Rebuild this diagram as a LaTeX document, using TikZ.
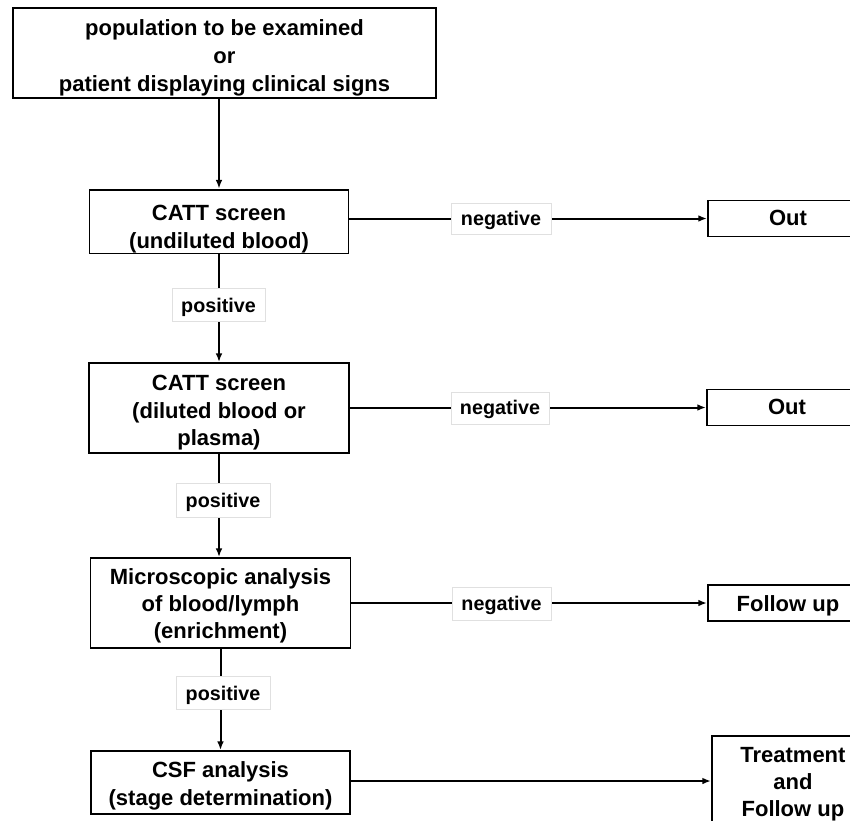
\documentclass[tikz,border=0pt]{standalone}
\usepackage{fontspec}
\setmainfont{Liberation Sans}
\usetikzlibrary{arrows.meta}
\newcommand\myup[1]{\rule{0pt}{#1pt}}
\newcommand\mydn{\rule[-4pt]{0pt}{0pt}}
\begin{document}
\begin{tikzpicture}[x=0.75pt,y=-0.75pt,
  box/.style={draw, line width=1.4pt, align=center, inner sep=0pt, font=\bfseries\fontsize{16.5}{20.5}\selectfont},
  wh/.style 2 args={minimum width=#1*0.75pt, minimum height=#2*0.75pt},
  lab/.style={draw=black!12, line width=0.6pt, fill=white, inner sep=0pt, font=\bfseries\fontsize{14.8}{18}\selectfont},
  conn/.style={line width=1.5pt},
  arr/.style={conn, -{Latex[length=6.5pt,width=5pt]}}
]
\useasboundingbox (0,0) rectangle (850,821);
\clip (0,0) rectangle (850,821);

\node[box, font=\bfseries\fontsize{16.5}{21}\selectfont, wh={423}{90}] (top) at (224.5,53) {\myup{20.4}population to be examined\\or\\patient displaying clinical signs\mydn};
\node[box, wh={259}{63}] (b2) at (219,221.5) {\myup{23.4}CATT screen\\(undiluted blood)\mydn};
\node[box, wh={260}{90}] (b3) at (219,408) {\myup{19}CATT screen\\(diluted blood or\\plasma)\mydn};
\node[box, wh={260}{90}] (b4) at (220.5,603) {\myup{16.7}Microscopic analysis\\of blood/lymph\\(enrichment)\mydn};
\node[box, wh={259}{63}] (b5) at (220.5,782.5) {\myup{17.4}CSF analysis\\(stage determination)\mydn};

\node[box, wh={160}{36}, anchor=west] (o1) at (707,218.5) {\myup{15.2}Out\mydn};
\node[box, wh={160}{36}, anchor=west] (o2) at (706,407.5) {\myup{15.2}Out\mydn};
\node[box, wh={160}{36}, anchor=west] (o3) at (707,603) {\myup{17.4}Follow up\mydn};
\node[box, wh={162}{90}, anchor=west] (o4) at (711,781) {\myup{16.7}Treatment\\and\\Follow up\mydn};

% vertical connectors
\draw[arr] (b2.north |- top.south) -- (b2.north);
\draw[arr] (b2.south) -- (b3.north);
\draw[arr] (b3.south) -- (b3.south |- b4.north);
\draw[arr] (b4.south) -- (b4.south |- b5.north);

% horizontal connectors
\draw[arr] (b2.east |- o1.west) -- (o1.west);
\draw[arr] (b3.east |- o2.west) -- (o2.west);
\draw[arr] (b4.east |- o3.west) -- (o3.west);
\draw[arr] (b5.east |- o4.west) -- (o4.west);

% labels
\node[lab, wh={93}{33}] (p1) at (218.5,304.5) {\myup{15}positive\rule[-3.5pt]{0pt}{0pt}};
\node[lab, wh={94}{34}] (p2) at (223,500) {\myup{15}positive\rule[-3.5pt]{0pt}{0pt}};
\node[lab, wh={94}{33}] (p3) at (223,692.5) {\myup{15}positive\rule[-3.5pt]{0pt}{0pt}};
\node[lab, wh={100}{31}] (n1) at (501,218.5) {\myup{13.5}negative\rule[-3.5pt]{0pt}{0pt}};
\node[lab, wh={98}{32}] (n2) at (500,408) {\myup{13.5}negative\rule[-3.5pt]{0pt}{0pt}};
\node[lab, wh={99}{33}] (n3) at (501.5,603.5) {\myup{13.5}negative\rule[-3.5pt]{0pt}{0pt}};
\end{tikzpicture}
\end{document}
